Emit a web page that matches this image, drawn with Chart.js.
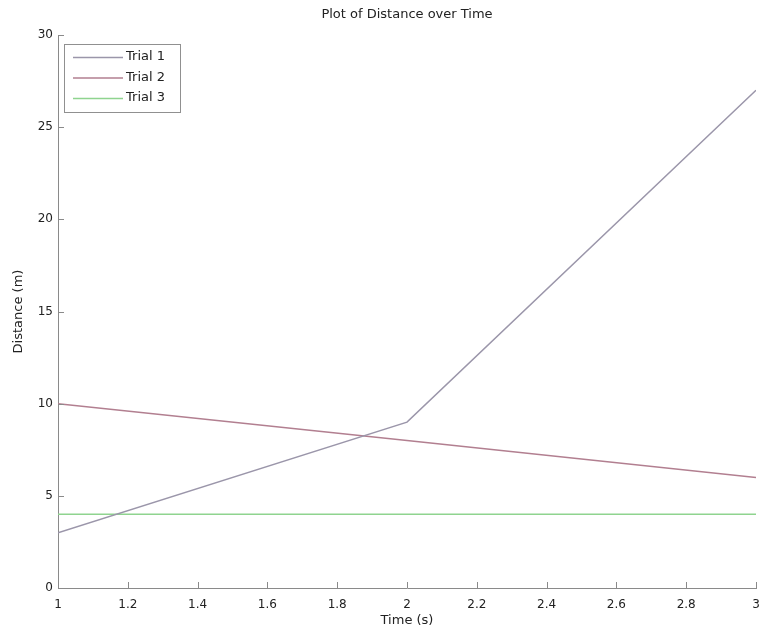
<!DOCTYPE html>
<html>
<head>
<meta charset="utf-8">
<script src="https://cdn.jsdelivr.net/npm/chart.js@4"></script>
<style>
html,body{margin:0;padding:0;background:#fff;}
#wrap{width:759px;height:632px;}
</style>
</head>
<body>
<div id="wrap"><canvas id="c" width="759" height="632"></canvas></div>
<script>
const timeValues = [1, 2, 3];
const trial1 = [3, 9, 27];
const trial2 = [10, 8, 6];
const trial3 = [4, 4, 4];
const seriesLabels = ['Trial 1', 'Trial 2', 'Trial 3'];
const seriesColors = ['#9b96aa', '#b27f90', '#8fd48f'];
const xTicks = [1, 1.2, 1.4, 1.6, 1.8, 2, 2.2, 2.4, 2.6, 2.8, 3];
const yTicks = [0, 5, 10, 15, 20, 25, 30];

const FONT = "'DejaVu Sans', 'Liberation Sans', Arial, sans-serif";
const AXIS = '#8a8a8a';
const TEXT = '#222222';

function pts(ys){ return timeValues.map((x,i)=>({x:x,y:ys[i]})); }

const innerTicks = {
  id:'innerTicks',
  afterDraw(chart){
    const ctx = chart.ctx, a = chart.chartArea;
    const xs = chart.scales.x, ys = chart.scales.y;
    ctx.save();
    ctx.strokeStyle = AXIS;
    ctx.lineWidth = 1;
    ctx.beginPath();
    xs.ticks.forEach(t=>{
      const px = Math.round(xs.getPixelForValue(t.value)) + 0.5;
      ctx.moveTo(px, a.bottom); ctx.lineTo(px, a.bottom - 6);
    });
    ys.ticks.forEach(t=>{
      const py = Math.round(ys.getPixelForValue(t.value)) + 0.5;
      ctx.moveTo(a.left, py); ctx.lineTo(a.left + 6, py);
    });
    ctx.stroke();
    // legend box
    const lx = a.left + 6, ly = a.top + 9, lw = 116, lh = 68;
    ctx.fillStyle = '#fff';
    ctx.fillRect(lx, ly, lw, lh);
    ctx.strokeStyle = '#909090';
    ctx.strokeRect(lx + 0.5, ly + 0.5, lw, lh);
    ctx.font = '13px ' + FONT;
    ctx.textBaseline = 'middle';
    chart.data.datasets.forEach((ds, i)=>{
      const cy = ly + 13 + i * 20.5;
      ctx.strokeStyle = ds.borderColor;
      ctx.lineWidth = 1.5;
      ctx.beginPath();
      ctx.moveTo(lx + 9, cy + 0.5); ctx.lineTo(lx + 59, cy + 0.5);
      ctx.stroke();
      ctx.fillStyle = TEXT;
      ctx.textAlign = 'left';
      ctx.fillText(ds.label, lx + 62, cy);
    });
    ctx.restore();
  }
};

new Chart(document.getElementById('c'), {
  type: 'line',
  data: {
    datasets: [
      {label: seriesLabels[0], data: pts(trial1), borderColor: seriesColors[0]},
      {label: seriesLabels[1], data: pts(trial2), borderColor: seriesColors[1]},
      {label: seriesLabels[2], data: pts(trial3), borderColor: seriesColors[2]}
    ].map(d=>Object.assign(d,{borderWidth:1.5, pointRadius:0, tension:0, fill:false}))
  },
  options: {
    responsive: false,
    animation: false,
    layout: {padding: {left: 0, right: 3, top: 0, bottom: 0}},
    plugins: {
      legend: {display: false},
      tooltip: {enabled: false},
      title: {
        display: true, text: 'Plot of Distance over Time', fullSize: false,
        color: TEXT, font: {family: FONT, size: 13, weight: 'normal'},
        padding: {top: 7, bottom: 12.4}
      }
    },
    scales: {
      x: {
        type: 'linear', min: 1, max: 3,
        afterBuildTicks(s){ s.ticks = xTicks.map(v=>({value:v})); },
        afterFit(s){ s.height = 44; s.paddingRight = 0; s.paddingLeft = 0; },
        grid: {display: false, drawTicks: false},
        border: {display: true, color: AXIS, width: 1},
        ticks: {color: TEXT, font: {family: FONT, size: 12}, padding: 10, maxRotation: 0,
                callback: v => String(Math.round(v*10)/10)},
        title: {display: true, text: 'Time (s)', color: TEXT, font: {family: FONT, size: 13}, padding: {top: 1}}
      },
      y: {
        type: 'linear', min: 0, max: 30,
        afterBuildTicks(s){ s.ticks = yTicks.map(v=>({value:v})); },
        afterFit(s){ s.width = 58; },
        grid: {display: false, drawTicks: false},
        border: {display: true, color: AXIS, width: 1},
        ticks: {color: TEXT, font: {family: FONT, size: 12}, padding: 5},
        title: {display: true, text: 'Distance (m)', color: TEXT, font: {family: FONT, size: 13}, padding: {top: 11, bottom: 6}}
      }
    }
  },
  plugins: [innerTicks]
});
</script>
</body>
</html>
